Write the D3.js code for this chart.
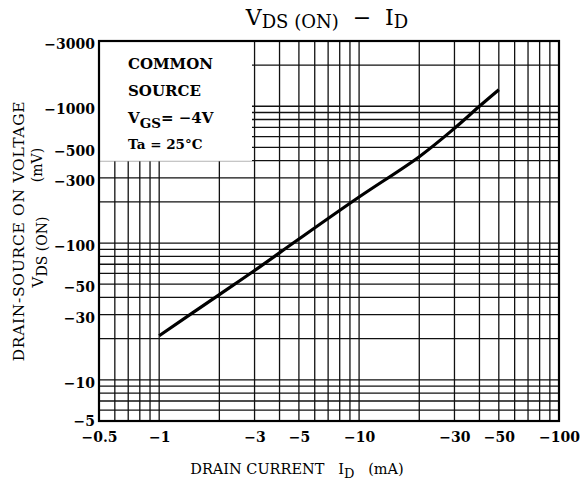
<!DOCTYPE html>
<html>
<head>
<meta charset="utf-8">
<script src="https://cdn.jsdelivr.net/npm/d3@7"></script>
<style>
  body { margin: 0; background: #fff; }
  svg { font-family: "DejaVu Serif", "Liberation Serif", serif; }
</style>
</head>
<body>
<svg id="chart" width="583" height="489"></svg>
<script>
// drain current (mA, magnitude) and VDS(ON) (mV, magnitude)
var currentMA = [1, 2, 3, 5, 10, 20, 30, 40, 50];
var vdsOnMV = [21, 42, 63, 107, 217, 428, 690, 1000, 1320];

var xTickLabels = [0.5, 1, 3, 5, 10, 30, 50, 100];
var yTickLabels = [5, 10, 30, 50, 100, 300, 500, 1000, 3000];

var legendLines = ["COMMON", "SOURCE", "VGS", "Ta = 25°C"];

var m = { left: 99, right: 24, top: 41, bottom: 68 };
var w = 583 - m.left - m.right,
    h = 489 - m.top - m.bottom;

var svg = d3.select("#chart");

var x = d3.scaleLog().domain([0.5, 100]).range([m.left, m.left + w]);
var y = d3.scaleLog().domain([5, 3000]).range([m.top + h, m.top]);

var grid = svg.append("g").attr("class", "grid");

// vertical grid lines (every 1-2-...-9 of each decade)
grid.selectAll("line.v")
    .data(x.ticks())
    .enter().append("line")
    .attr("class", "v")
    .attr("x1", function (d) { return x(d); })
    .attr("x2", function (d) { return x(d); })
    .attr("y1", m.top)
    .attr("y2", m.top + h)
    .style("stroke", "#111")
    .style("stroke-width", 1.3);

// horizontal grid lines
grid.selectAll("line.h")
    .data(y.ticks())
    .enter().append("line")
    .attr("class", "h")
    .attr("x1", m.left)
    .attr("x2", m.left + w)
    .attr("y1", function (d) { return y(d); })
    .attr("y2", function (d) { return y(d); })
    .style("stroke", "#111")
    .style("stroke-width", 1.3);

// legend box covers the grid
var boxW = 153, boxH = 120;
svg.append("rect")
    .attr("x", m.left)
    .attr("y", m.top)
    .attr("width", boxW)
    .attr("height", boxH)
    .style("fill", "#fff");
svg.append("line")
    .attr("x1", m.left).attr("x2", m.left + boxW)
    .attr("y1", m.top + boxH).attr("y2", m.top + boxH)
    .style("stroke", "#ccc")
    .style("stroke-width", 0.7);

// plot frame
svg.append("rect")
    .attr("x", m.left)
    .attr("y", m.top)
    .attr("width", w)
    .attr("height", h)
    .style("fill", "none")
    .style("stroke", "#000")
    .style("stroke-width", 2.2);

// data curve
var line = d3.line()
    .x(function (d, i) { return x(currentMA[i]); })
    .y(function (d) { return y(d); })
    .curve(d3.curveCatmullRom);

svg.append("path")
    .attr("d", line(vdsOnMV))
    .style("fill", "none")
    .style("stroke", "#000")
    .style("stroke-width", 3.2);

// axes (ticks drawn as labels only)
var xAxis = d3.axisBottom(x)
    .tickValues(xTickLabels)
    .tickSize(0)
    .tickPadding(10)
    .tickFormat(function (d) { return "\u2212" + d; });
var gX = svg.append("g")
    .attr("transform", "translate(0," + (m.top + h) + ")")
    .call(xAxis);

var yAxis = d3.axisLeft(y)
    .tickValues(yTickLabels)
    .tickSize(0)
    .tickPadding(4)
    .tickFormat(function (d) { return "\u2212" + d; });
var gY = svg.append("g")
    .attr("transform", "translate(" + m.left + ",0)")
    .call(yAxis);

[gX, gY].forEach(function (g) {
    g.select(".domain").remove();
    g.selectAll("text")
        .style("font-family", "'DejaVu Serif', serif")
        .style("font-size", "14px")
        .style("font-weight", "bold")
        .style("fill", "#000");
});
gY.selectAll("text").attr("dy", function (d) { return d === 5 ? "0.3em" : "0.55em"; });
gX.selectAll("text").attr("dy", "0.8em");

// legend text
var lg = svg.append("g").style("font-weight", "bold").style("fill", "#000");
lg.append("text").attr("x", 128).attr("y", 69).style("font-size", "15px").text(legendLines[0]);
lg.append("text").attr("x", 128).attr("y", 96).style("font-size", "15px").text(legendLines[1]);
var vgs = lg.append("text").attr("x", 128).attr("y", 123).style("font-size", "15px");
vgs.append("tspan").text("V");
vgs.append("tspan").attr("dy", 5).style("font-size", "13.5px").text("GS");
vgs.append("tspan").attr("dy", -5).text("= \u22124V");
lg.append("text").attr("x", 128).attr("y", 149).style("font-size", "13.5px").text(legendLines[3]);

// title
var title = svg.append("text")
    .attr("x", 327)
    .attr("y", 25)
    .attr("text-anchor", "middle")
    .attr("xml:space", "preserve")
    .style("font-size", "22px")
    .style("fill", "#000");
title.append("tspan").text("V");
title.append("tspan").attr("dy", 3).style("font-size", "18px").text("DS (ON)");
title.append("tspan").attr("dy", -3).text("  \u2212  I");
title.append("tspan").attr("dy", 3).style("font-size", "18px").text("D");

// x axis title
var xt = svg.append("text")
    .attr("x", 297)
    .attr("y", 474)
    .attr("text-anchor", "middle")
    .style("font-size", "14.5px")
    .style("fill", "#000")
    .attr("xml:space", "preserve");
xt.append("tspan").text("DRAIN CURRENT   I");
xt.append("tspan").attr("dy", 4).style("font-size", "13px").text("D");
xt.append("tspan").attr("dy", -4).text("   (mA)");

// y axis title (two rotated lines)
svg.append("text")
    .attr("transform", "translate(24,231) rotate(-90)")
    .attr("text-anchor", "middle")
    .style("font-size", "15.5px")
    .style("letter-spacing", "0.7px")
    .style("fill", "#000")
    .text("DRAIN-SOURCE ON VOLTAGE");

var yt2 = svg.append("text")
    .attr("transform", "translate(43,252) rotate(-90)")
    .attr("text-anchor", "middle")
    .style("font-size", "15px")
    .style("fill", "#000");
yt2.append("tspan").text("V");
yt2.append("tspan").attr("dy", 4).style("font-size", "14px").text("DS (ON)");

svg.append("text")
    .attr("transform", "translate(42,165) rotate(-90)")
    .attr("text-anchor", "middle")
    .style("font-size", "14px")
    .style("fill", "#000")
    .text("(mV)");
</script>
</body>
</html>
